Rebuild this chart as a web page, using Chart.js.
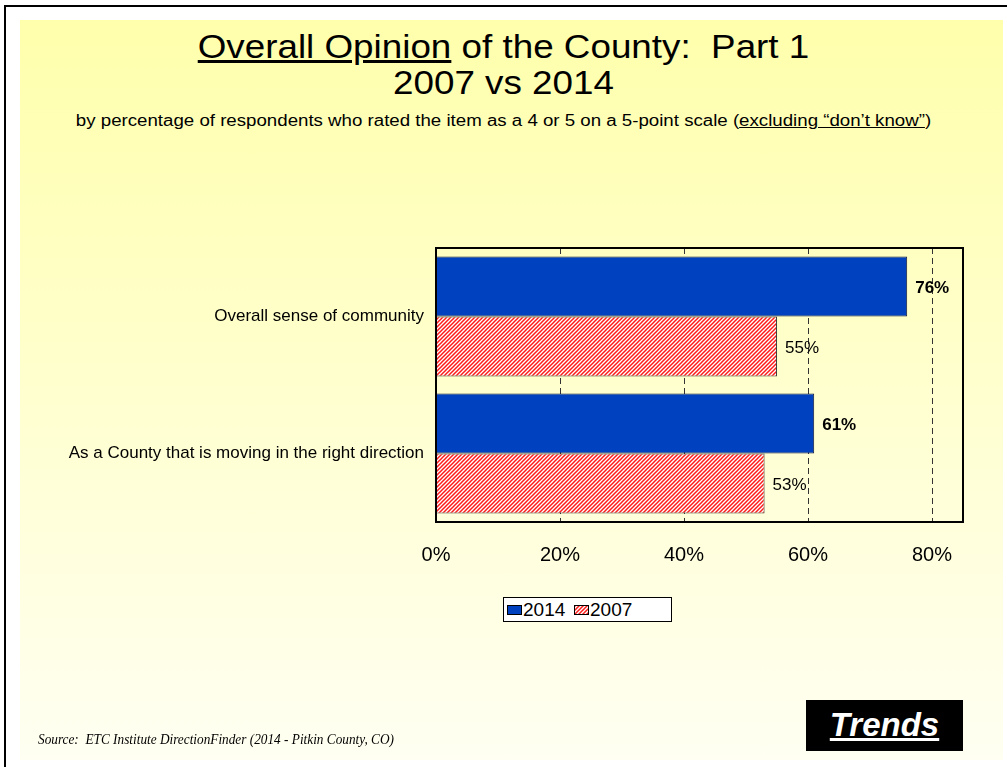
<!DOCTYPE html>
<html>
<head>
<meta charset="utf-8">
<script src="https://cdn.jsdelivr.net/npm/chart.js@4"></script>
<style>
  body { margin: 0; background: #fff; }
  #page { position: relative; width: 1007px; height: 767px; overflow: hidden; font-family: "Liberation Sans", Arial, sans-serif; }
  #frame { position: absolute; left: 4px; top: 5px; right: -10px; bottom: -10px; border-left: 2px solid #000; border-top: 2px solid #000; }
  #panel { position: absolute; left: 20px; top: 20px; width: 983px; height: 740px; background: linear-gradient(#ffffac, #fffff2); }
  .center { position: absolute; left: 0; width: 1007px; text-align: center; color: #000; white-space: nowrap; }
  #title1 { top: 28px; font-size: 33px; transform: scaleX(1.115); }
  #title2 { top: 64px; font-size: 33px; transform: scaleX(1.115); }
  #sub { top: 112px; font-size: 16px; transform: scaleX(1.167); }
  #chart { position: absolute; left: 0; top: 0; }
  #legend { position: absolute; left: 503px; top: 597px; width: 167px; height: 23px; border: 1px solid #000; background: #fff; font-size: 19px; }
  #legend span { position: absolute; top: 1px; }
  .sw { position: absolute; top: 7px; width: 15px; height: 10px; border: 1px solid #000; box-sizing: border-box; }
  #source { position: absolute; left: 38px; top: 731px; font-family: "Liberation Serif", "Times New Roman", serif; font-style: italic; font-size: 15px; white-space: nowrap; transform: scaleX(0.885); transform-origin: left center; }
  #trends { position: absolute; left: 806px; top: 700px; width: 157px; height: 51px; background: #000; color: #fff; text-align: center; font-size: 33px; font-weight: bold; font-style: italic; line-height: 50px; }
</style>
</head>
<body>
<div id="page">
  <div id="frame"></div>
  <div id="panel"></div>
  <div class="center" id="title1"><u>Overall Opinion</u> of the County:&nbsp; Part 1</div>
  <div class="center" id="title2">2007 vs 2014</div>
  <div class="center" id="sub">by percentage of respondents who rated the item as a 4 or 5 on a 5-point scale (<u>excluding “don’t know”</u>)</div>
  <canvas id="chart" width="1007" height="767"></canvas>
  <div id="legend">
    <div class="sw" style="left:3px;background:#0041bf;"></div><span style="left:19px;">2014</span>
    <div class="sw" id="hatchSw" style="left:70px;"></div><span style="left:86px;">2007</span>
  </div>
  <div id="source">Source:&nbsp; ETC Institute DirectionFinder (2014 - Pitkin County, CO)</div>
  <div id="trends"><u>Trends</u></div>
</div>
<script>
const categories = ['Overall sense of community', 'As a County that is moving in the right direction'];
const values2014 = [76, 61];
const values2007 = [55, 53];
const xTicks = [0, 20, 40, 60, 80];

const FONT = '"Liberation Sans", Arial, sans-serif';

// red diagonal hatch used for the 2007 bars
function makeHatch() {
    const c = document.createElement('canvas');
    c.width = 4; c.height = 4;
    const g = c.getContext('2d');
    g.fillStyle = '#fff';
    g.fillRect(0, 0, 4, 4);
    g.strokeStyle = '#ff1a1a';
    g.lineWidth = 1.5;
    g.beginPath();
    g.moveTo(-1, 5); g.lineTo(5, -1);
    g.moveTo(-1, 1); g.lineTo(1, -1);
    g.moveTo(3, 5); g.lineTo(5, 3);
    g.stroke();
    return c;
}
const hatchCanvas = makeHatch();
const hatch = document.getElementById('chart').getContext('2d').createPattern(hatchCanvas, 'repeat');
document.getElementById('hatchSw').style.background = 'url(' + hatchCanvas.toDataURL() + ')';

// black frame around the plot area
const frame = {
    id: 'frame',
    afterDraw(chart) {
        const a = chart.chartArea, ctx = chart.ctx;
        ctx.save();
        ctx.strokeStyle = '#000';
        ctx.lineWidth = 2;
        ctx.strokeRect(a.left, a.top, a.right - a.left, a.bottom - a.top);
        ctx.restore();
    }
};

// percentages at the end of each bar
const barLabels = {
    id: 'barLabels',
    afterDatasetsDraw(chart) {
        const ctx = chart.ctx;
        ctx.save();
        ctx.fillStyle = '#000';
        ctx.textAlign = 'left';
        ctx.textBaseline = 'middle';
        chart.data.datasets.forEach((ds, i) => {
            ctx.font = (i === 0 ? 'bold ' : '') + '17px ' + FONT;
            chart.getDatasetMeta(i).data.forEach((bar, j) => {
                ctx.fillText(ds.data[j] + '%', bar.x + 8, bar.y + 2);
            });
        });
        ctx.restore();
    }
};

new Chart(document.getElementById('chart'), {
    type: 'bar',
    data: {
        labels: categories,
        datasets: [
            { label: '2014', data: values2014, backgroundColor: '#0041bf', borderColor: '#10183a', borderWidth: 1 },
            { label: '2007', data: values2007, backgroundColor: hatch, borderColor: '#404040', borderWidth: 1 }
        ]
    },
    options: {
        indexAxis: 'y',
        responsive: false,
        animation: false,
        categoryPercentage: 0.876,
        barPercentage: 1,
        layout: { padding: { left: 0, right: 44, top: 248, bottom: 195 } },
        scales: {
            x: {
                min: 0, max: 85,
                afterBuildTicks: s => { s.ticks = xTicks.map(v => ({ value: v })); },
                afterFit: s => { s.height = 50; },
                grid: { color: '#333', drawTicks: false },
                border: { display: false, dash: [6, 4] },
                ticks: { callback: v => v + '%', color: '#000', padding: 21, font: { size: 20, family: FONT } }
            },
            y: {
                afterFit: s => { s.width = 436; },
                grid: { display: false, drawTicks: false },
                border: { display: false },
                ticks: { color: '#000', padding: 12, font: { size: 17, family: FONT } }
            }
        },
        plugins: {
            legend: { display: false },
            tooltip: { enabled: false }
        }
    },
    plugins: [frame, barLabels]
});
</script>
</body>
</html>
